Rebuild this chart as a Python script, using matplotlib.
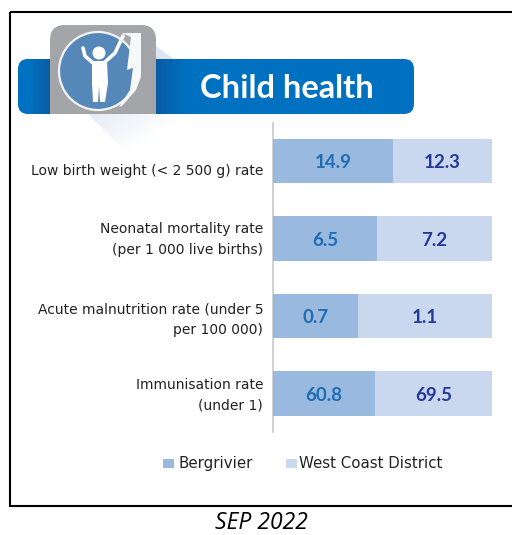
import matplotlib
matplotlib.use('Agg')
import matplotlib.pyplot as plt
import numpy as np
from matplotlib.colors import LinearSegmentedColormap
from matplotlib.patches import FancyBboxPatch, Circle, Polygon, Rectangle

# ── DATA ─────────────────────────────────────────────────────────────────────
labels = ['Low birth weight (< 2 500 g) rate',
          'Neonatal mortality rate\n(per 1 000 live births)',
          'Acute malnutrition rate (under 5\nper 100 000)',
          'Immunisation rate\n(under 1)']
bergrivier = [14.9, 6.5, 0.7, 60.8]
west_coast = [12.3, 7.2, 1.1, 69.5]
series_names = ['Bergrivier', 'West Coast District']
title = 'Child health'
caption = 'SEP 2022'

C_BERG = '#99B9DE'
C_WEST = '#C9D8EE'
C_BLUE = '#0070C0'
FONT = 'Lato'
W, H = 512, 535

fig = plt.figure(figsize=(W / 100, H / 100), dpi=100, facecolor='white')

# page layer in pixel coordinates
bg = fig.add_axes([0, 0, 1, 1])
bg.set_xlim(0, W)
bg.set_ylim(H, 0)
bg.axis('off')

# outer frame
bg.add_patch(Rectangle((10, 12), 510, 494, fill=False, ec='black', lw=1.5))

# soft shadow under the icon, fades away from the tab
yy, xx = np.mgrid[114:165, 85:195]
fade = np.clip(1 - ((xx - 90) / 100 + (yy - 114) / 60), 0, 1)
shade_cmap = LinearSegmentedColormap.from_list('shade', ['#FFFFFF', '#E4ECF4'])
im = bg.imshow(fade, extent=(85, 195, 165, 114), cmap=shade_cmap, vmin=0, vmax=1,
               aspect='auto', zorder=0)
clip = Polygon([(88, 114), (195, 114), (137, 163)], transform=bg.transData)
im.set_clip_path(clip)
bg.add_patch(Polygon([(156, 46), (174, 59), (156, 59)], fc='#DDE5EE', ec='none', zorder=1))

# banner
bg.add_patch(FancyBboxPatch((18, 59), 396, 55, boxstyle='round,pad=0,rounding_size=10',
                            fc=C_BLUE, ec='none', zorder=1))
banner_cmap = LinearSegmentedColormap.from_list('banner', ['#0A5CA3', C_BLUE])
bg.imshow(np.linspace(0, 1, 30).reshape(1, -1), extent=(156, 186, 114, 59), cmap=banner_cmap,
          aspect='auto', zorder=1.5)
bg.imshow(np.linspace(1, 0, 20).reshape(1, -1), extent=(30, 50, 114, 59), cmap=banner_cmap,
          aspect='auto', zorder=1.5)
bg.set_xlim(0, W)
bg.set_ylim(H, 0)
bg.text(287, 88.5, title, color='white', fontsize=23.5, fontweight='bold',
        family=FONT, ha='center', va='center', zorder=2)

# icon: grey tab, blue disc, child
bg.add_patch(FancyBboxPatch((50, 25), 106, 89, boxstyle='round,pad=0,rounding_size=15',
                            fc='#A3A5A8', ec='none', zorder=2))
bg.add_patch(Rectangle((50, 60), 106, 54, fc='#A3A5A8', ec='none', zorder=2))
bg.add_patch(Circle((98, 71), 39, fc='#5587B8', ec='#F2F4F6', lw=1.6, zorder=3))
bg.add_patch(Polygon([(122, 33), (141, 33), (141, 77), (136, 90), (122, 106),
                      (119, 107), (130, 90), (133, 68), (127, 70), (131, 37)],
                     fc='#F7F8F9', ec='none', zorder=4))
bg.plot([123, 115, 105], [36, 53, 62], color='white', lw=2.6, zorder=5, solid_capstyle='round')
bg.plot([83, 85, 93], [48, 56, 63], color='white', lw=2.6, zorder=5, solid_capstyle='round')
bg.add_patch(Circle((99, 53), 6.5, fc='white', ec='none', zorder=5))
bg.add_patch(Polygon([(92, 61), (107, 61), (108, 83), (105, 102), (100, 102), (99, 86),
                      (98, 102), (93, 102), (92, 83)],
                     fc='white', ec='none', zorder=5))

# bars as 100 % stacks
ax = fig.add_axes([273 / W, 1 - 432 / H, 219 / W, 309 / H])
ax.set_xlim(0, 1)
ax.set_ylim(3.497, -0.49)
ax.axis('off')
label_shift = [0.13, 0.01, 0.045, 0.02]
ypos = list(range(len(labels)))
for i in ypos:
    total = bergrivier[i] + west_coast[i]
    share = bergrivier[i] / total
    ax.barh(i, share, left=0, height=0.57, color=C_BERG, zorder=2)
    ax.barh(i, 1 - share, left=share, height=0.57, color=C_WEST, zorder=2)
    ax.text(share / 2, i + 0.025, f'{bergrivier[i]:.1f}', color='#1F6DB5', fontsize=13.5,
            fontweight='bold', family=FONT, ha='center', va='center', zorder=3)
    ax.text(share + (1 - share) / 2, i + 0.025, f'{west_coast[i]:.1f}', color='#22399A', fontsize=13.5,
            fontweight='bold', family=FONT, ha='center', va='center', zorder=3)
    ax.text(-0.045, i + label_shift[i], labels[i], color='#222222', fontsize=10,
            family='DejaVu Sans', ha='right', va='center', linespacing=1.6, clip_on=False)
ax.plot([0, 0], [3.497, -0.49], color='#C8C8C8', lw=1.2, zorder=1, clip_on=False)

# legend
bg.add_patch(Rectangle((163, 459), 11, 9, fc=C_BERG, ec='none'))
bg.text(178, 463.5, series_names[0], color='#222222', fontsize=10.8, family='DejaVu Sans', va='center')
bg.add_patch(Rectangle((285.5, 459), 11, 9, fc=C_WEST, ec='none'))
bg.text(299, 463.5, series_names[1], color='#222222', fontsize=10.8, family='DejaVu Sans', va='center')

# caption under the frame
bg.text(261, 523, caption, color='black', fontsize=16.5, style='italic',
        family='Open Sans', ha='center', va='center')

fig.savefig('out.png', dpi=100)
